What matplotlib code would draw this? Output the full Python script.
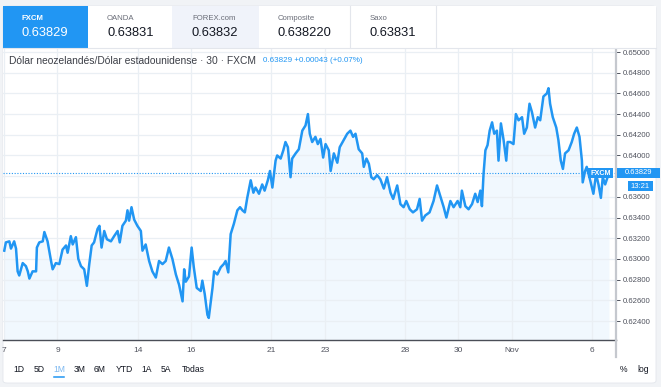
import matplotlib
matplotlib.use("Agg")
import matplotlib.pyplot as plt
from matplotlib.patches import Rectangle, FancyBboxPatch
from matplotlib.lines import Line2D

W, H = 661, 387

# NZD/USD 30-min closes, x = trading days since Oct 7 (weekends removed)
days = [
    0.01, 0.07, 0.20, 0.26, 0.38, 0.45, 0.51, 0.57, 0.70, 0.82,
    0.89, 0.95, 1.07, 1.20, 1.23, 1.32, 1.45, 1.51, 1.63, 1.76,
    1.82, 1.94, 2.07, 2.19, 2.32, 2.38, 2.50, 2.57, 2.69, 2.78,
    2.88, 3.00, 3.10, 3.19, 3.28, 3.37, 3.50, 3.57, 3.65, 3.75,
    3.85, 4.00, 4.12, 4.25, 4.33, 4.43, 4.56, 4.62, 4.68, 4.77,
    4.87, 4.99, 5.12, 5.18, 5.30, 5.43, 5.55, 5.68, 5.80, 5.93,
    6.05, 6.17, 6.30, 6.43, 6.55, 6.68, 6.74, 6.80, 6.92, 7.02,
    7.10, 7.21, 7.36, 7.42, 7.51, 7.61, 7.66, 7.80, 7.86, 7.98,
    8.11, 8.22, 8.29, 8.39, 8.48, 8.60, 8.73, 8.83, 8.92, 9.01,
    9.10, 9.23, 9.33, 9.41, 9.54, 9.66, 9.75, 9.87, 9.95, 10.04,
    10.16, 10.22, 10.35, 10.45, 10.53, 10.62, 10.72, 10.78, 10.91, 11.03,
    11.16, 11.28, 11.37, 11.44, 11.53, 11.65, 11.74, 11.84, 11.94, 12.03,
    12.15, 12.22, 12.34, 12.47, 12.56, 12.71, 12.84, 12.96, 13.06, 13.15,
    13.27, 13.40, 13.46, 13.56, 13.65, 13.74, 13.83, 13.96, 14.08, 14.21,
    14.33, 14.46, 14.56, 14.71, 14.83, 14.95, 15.05, 15.18, 15.30, 15.45,
    15.55, 15.64, 15.76, 15.92, 16.07, 16.20, 16.32, 16.45, 16.55, 16.70,
    16.82, 16.97, 17.07, 17.13, 17.26, 17.38, 17.51, 17.63, 17.72, 17.82,
    17.88, 17.94, 18.01, 18.09, 18.17, 18.26, 18.34, 18.44, 18.50, 18.59,
    18.69, 18.79, 18.84, 18.94, 19.06, 19.15, 19.25, 19.38, 19.46, 19.56,
    19.66, 19.75, 19.87, 19.97, 20.06, 20.18, 20.31, 20.37, 20.43, 20.53,
    20.66, 20.74, 20.83, 20.91, 20.99, 21.12, 21.24, 21.33, 21.43, 21.53,
    21.62, 21.65, 21.74, 21.80, 21.93, 22.05, 22.15, 22.24, 22.33, 22.40,
    22.49, 22.58, 22.65,
]
price = [
    0.6308, 0.6316, 0.6317, 0.6310, 0.6317, 0.6310, 0.6288, 0.6284, 0.6296, 0.6293,
    0.6288, 0.6281, 0.6288, 0.6288, 0.6311, 0.6316, 0.6317, 0.6326, 0.6317, 0.6298,
    0.6290, 0.6296, 0.6295, 0.6309, 0.6313, 0.6306, 0.6322, 0.6314, 0.6321, 0.6300,
    0.6293, 0.6290, 0.6274, 0.6295, 0.6313, 0.6316, 0.6329, 0.6332, 0.6311, 0.6327,
    0.6319, 0.6317, 0.6322, 0.6327, 0.6316, 0.6332, 0.6337, 0.6347, 0.6337, 0.6350,
    0.6338, 0.6332, 0.6327, 0.6308, 0.6314, 0.6298, 0.6288, 0.6282, 0.6298, 0.6295,
    0.6298, 0.6311, 0.6300, 0.6285, 0.6275, 0.6259, 0.6290, 0.6278, 0.6283, 0.6311,
    0.6292, 0.6272, 0.6269, 0.6279, 0.6266, 0.6246, 0.6243, 0.6272, 0.6288, 0.6285,
    0.6292, 0.6295, 0.6298, 0.6287, 0.6324, 0.6334, 0.6347, 0.6350, 0.6347, 0.6345,
    0.6359, 0.6376, 0.6364, 0.6369, 0.6363, 0.6372, 0.6366, 0.6376, 0.6385, 0.6369,
    0.6395, 0.6400, 0.6397, 0.6405, 0.6413, 0.6408, 0.6379, 0.6397, 0.6402, 0.6406,
    0.6424, 0.6429, 0.6440, 0.6421, 0.6413, 0.6418, 0.6411, 0.6416, 0.6398, 0.6411,
    0.6405, 0.6385, 0.6402, 0.6393, 0.6408, 0.6415, 0.6421, 0.6424, 0.6418, 0.6421,
    0.6406, 0.6402, 0.6389, 0.6397, 0.6392, 0.6379, 0.6377, 0.6381, 0.6377, 0.6368,
    0.6379, 0.6364, 0.6358, 0.6371, 0.6353, 0.6350, 0.6356, 0.6348, 0.6345, 0.6348,
    0.6358, 0.6337, 0.6342, 0.6345, 0.6356, 0.6371, 0.6361, 0.6350, 0.6340, 0.6356,
    0.6350, 0.6356, 0.6350, 0.6366, 0.6351, 0.6348, 0.6353, 0.6363, 0.6355, 0.6366,
    0.6351, 0.6382, 0.6405, 0.6410, 0.6424, 0.6432, 0.6421, 0.6424, 0.6395, 0.6431,
    0.6415, 0.6395, 0.6413, 0.6413, 0.6411, 0.6440, 0.6434, 0.6437, 0.6421, 0.6427,
    0.6450, 0.6442, 0.6427, 0.6437, 0.6434, 0.6457, 0.6460, 0.6465, 0.6450, 0.6437,
    0.6427, 0.6415, 0.6395, 0.6387, 0.6402, 0.6405, 0.6413, 0.6421, 0.6427, 0.6418,
    0.6395, 0.6374, 0.6385, 0.6389, 0.6376, 0.6363, 0.6382, 0.6372, 0.6359, 0.6379,
    0.6372, 0.6379, 0.63829,
]

tick_days = [0, 2, 5, 7, 10, 12, 15, 17, 19, 22]
tick_labels = ["7", "9", "14", "16", "21", "23", "28", "30", "Nov", "6"]
price_ticks = [0.624, 0.626, 0.628, 0.630, 0.632, 0.634, 0.636,
               0.638, 0.640, 0.642, 0.644, 0.646, 0.648, 0.650]
hidden_tick = 0.638  # sits under the last-price badge

sources = ["FXCM", "OANDA", "FOREX.com", "Composite", "Saxo"]
quotes = ["0.63829", "0.63831", "0.63832", "0.638220", "0.63831"]
ranges = ["1D", "5D", "1M", "3M", "6M", "YTD", "1A", "5A", "Todas"]

last_price = 0.63829
last_time = "13:21"
title = "Dólar neozelandés/Dólar estadounidense · 30 · FXCM"
change = "0.63829 +0.00043 (+0.07%)"

BLUE = "#2196f3"
TEXT = "#131722"
AXIS_TEXT = "#50535e"
GRID = "#eaeff4"

plt.rcParams["font.family"] = ["Liberation Sans", "DejaVu Sans"]

fig = plt.figure(figsize=(W / 100, H / 100), dpi=100)
fig.patch.set_facecolor("#f1f3f6")


def fx(x):
    return x / W


def fy(y):
    return 1 - y / H


def rect(x0, y0, x1, y1, color, z=2, edge="none"):
    fig.add_artist(Rectangle((fx(x0), fy(y1)), fx(x1) - fx(x0), fy(y0) - fy(y1),
                             transform=fig.transFigure, facecolor=color,
                             edgecolor=edge, lw=0.8, zorder=z))


def hline(x0, x1, y, color, lw=0.8, z=2.5, **kw):
    fig.add_artist(Line2D([fx(x0), fx(x1)], [fy(y), fy(y)], transform=fig.transFigure,
                          color=color, lw=lw, zorder=z, **kw))


def vline(x, y0, y1, color, lw=0.8, z=2.5):
    fig.add_artist(Line2D([fx(x), fx(x)], [fy(y0), fy(y1)], transform=fig.transFigure,
                          color=color, lw=lw, zorder=z))


def label(x, y, s, size, color, ha="left", weight="normal", z=4):
    fig.text(fx(x), fy(y), s, fontsize=size, color=color, ha=ha, va="center",
             weight=weight, zorder=z)


# white card behind everything
fig.add_artist(FancyBboxPatch((fx(3), fy(383)), fx(656) - fx(3), fy(6) - fy(383),
                              boxstyle="round,pad=0,rounding_size=0.006",
                              transform=fig.transFigure, facecolor="white",
                              edgecolor="#e3e6ec", lw=0.6, zorder=-5))

# price chart
ax = fig.add_axes([fx(3), fy(340), fx(616) - fx(3), fy(49) - fy(340)])
ax.set_facecolor("white")
ax.fill_between(days, price, 0.6, color=BLUE, alpha=0.06, lw=0, zorder=1)
ax.plot(days, price, color=BLUE, lw=1.8, zorder=3, solid_joinstyle="round")
ax.axhline(last_price, color=BLUE, lw=0.8, ls=(0, (1, 1.5)), zorder=2)
ax.set_xlim(-1 / 26.73, 612 / 26.73)
ax.set_ylim(0.622165, 0.65029)

ax.set_xticks(tick_days)
ax.set_xticklabels(tick_labels)
ax.set_yticks(price_ticks)
ax.set_yticklabels(["" if v == hidden_tick else f"{v:.5f}" for v in price_ticks])
ax.yaxis.tick_right()
ax.grid(True, color=GRID, lw=0.9, zorder=0)
ax.tick_params(axis="x", length=0, pad=5, labelsize=6, labelcolor=AXIS_TEXT)
ax.tick_params(axis="y", length=3, width=0.7, color=AXIS_TEXT, pad=2,
               labelsize=5.6, labelcolor=AXIS_TEXT)
for side in ("left", "top"):
    ax.spines[side].set_visible(False)
ax.spines["right"].set_color("#c5c8ce")
ax.spines["right"].set_linewidth(1.6)
ax.spines["bottom"].set_color("#4a4e57")
ax.spines["bottom"].set_linewidth(1.0)
vline(616, 340, 357, "#c5c8ce", lw=1.6)

# tab row with the quote sources
rect(3, 6, 656, 48, "white", z=2)
rect(172, 6, 259, 48, "#f0f3fa", z=2.1)
rect(3, 6, 88, 48, BLUE, z=2.1)
vline(350, 6, 48, "#e3e6ec")
vline(436, 6, 48, "#e3e6ec")
hline(3, 656, 48, "#e3e6ec")
tab_x = [22, 107, 192, 278, 370]
for i, (src, q) in enumerate(zip(sources, quotes)):
    c_small = "white" if i == 0 else "#6a6d78"
    c_big = "white" if i == 0 else TEXT
    label(tab_x[i], 18, src, 5.6, c_small, weight="bold" if i == 0 else "normal")
    label(tab_x[i], 33, q, 9.3, c_big)

# legend line
label(9, 61, title, 7.4, "#3c3f47")
label(263, 61, change, 5.8, BLUE)

# last price markers on the scale
rect(588, 168, 613, 178, BLUE, z=3)
label(600.5, 173, "FXCM", 5.2, "white", ha="center", weight="bold")
rect(617, 168, 660, 178, BLUE, z=3)
label(638.5, 172.5, f"{last_price:.5f}", 5.5, "white", ha="center")
rect(628, 181, 653, 191, BLUE, z=3)
label(640.5, 186.5, last_time, 5.5, "white", ha="center")

# range buttons
range_x = [19, 39, 59, 80, 100, 124, 147, 166, 193]
for s, x in zip(ranges, range_x):
    label(x, 370, s, 6.2, "#7db8f0" if s == "1M" else TEXT, ha="center")
hline(54, 64, 377, BLUE, lw=1.1, z=4)
label(623, 370, "%", 6.2, TEXT, ha="center")
label(643, 370, "log", 6.2, TEXT, ha="center")

fig.savefig("out.png", dpi=100)
